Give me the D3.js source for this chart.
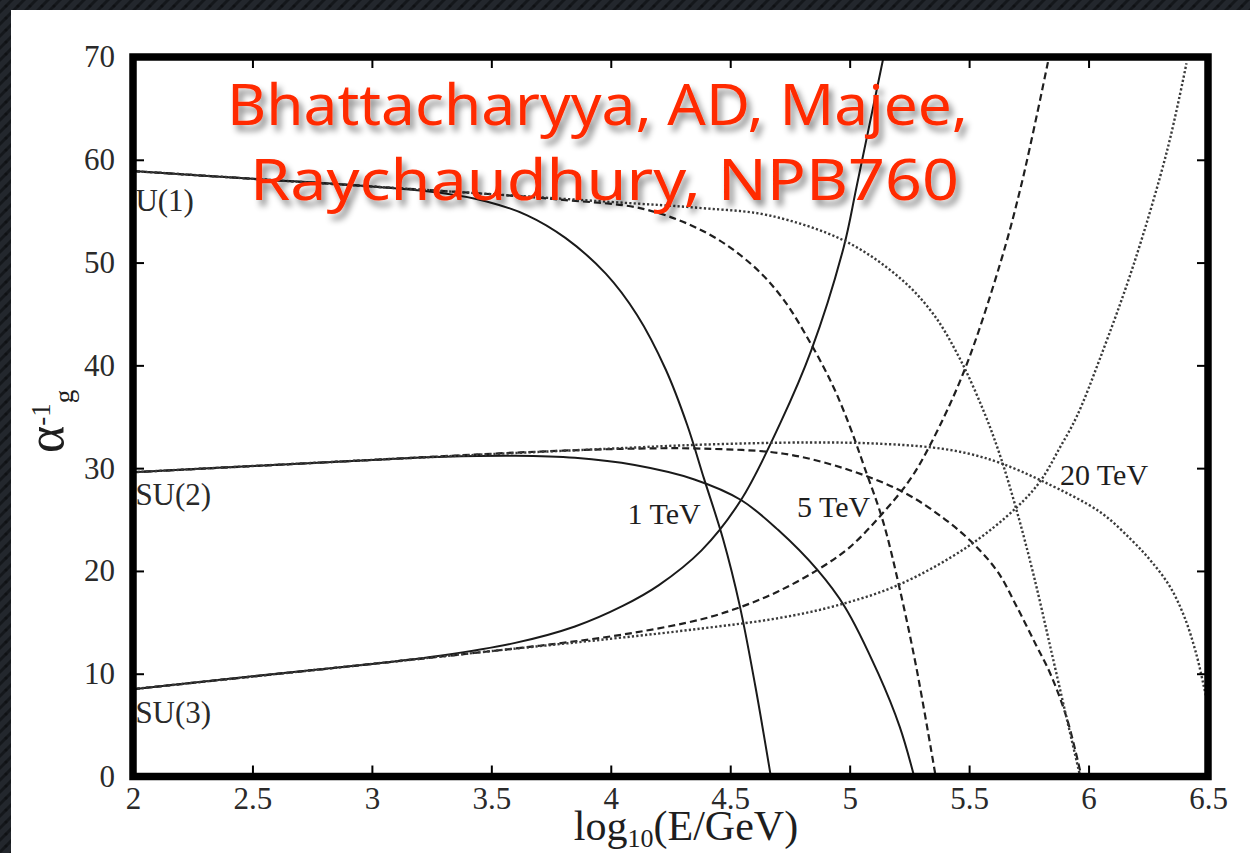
<!DOCTYPE html>
<html>
<head>
<meta charset="utf-8">
<script src="https://cdn.jsdelivr.net/npm/d3@7"></script>
<style>
  html, body { margin: 0; padding: 0; background: #1d2126; overflow: hidden; }
  svg { display: block; }
</style>
</head>
<body>
<svg id="chart" width="1250" height="853"></svg>
<script>
// ---- axis ticks ----
const xTicks = [2, 2.5, 3, 3.5, 4, 4.5, 5, 5.5, 6, 6.5];
const xTickLabels = ["2", "2.5", "3", "3.5", "4", "4.5", "5", "5.5", "6", "6.5"];
const yTicks = [0, 10, 20, 30, 40, 50, 60, 70];
const yTickLabels = ["0", "10", "20", "30", "40", "50", "60", "70"];

// ---- inverse gauge couplings vs log10(E/GeV), one array per curve ----
// compactification scale 1 TeV (solid)
const u1_1TeV = [[2,58.9],[2.5,58.15],[3,57.4],[3.3,56.75],[3.48,55.95],[3.65,54.6],[3.81,52.4],[3.98,48.9],[4.11,44.9],[4.23,39.6],[4.32,34.2],[4.39,29.0],[4.47,23.1],[4.54,16.6],[4.605,8.8],[4.67,0]];
const su2_1TeV = [[2,29.6],[2.5,30.2],[3,30.8],[3.3,31.1],[3.6,31.2],[3.85,31.0],[4.1,30.3],[4.35,28.9],[4.545,26.9],[4.7,24.0],[4.865,20.1],[4.98,16.5],[5.12,10.0],[5.21,4.8],[5.27,0]];
const su3_1TeV = [[2,8.5],[2.5,9.75],[3,10.95],[3.3,11.8],[3.6,13.0],[3.85,14.6],[4.05,16.6],[4.2,18.6],[4.38,22.0],[4.545,26.9],[4.71,34.4],[4.84,41.5],[4.975,51.5],[5.03,57.5],[5.14,69.8]];
// compactification scale 5 TeV (dashed)
const u1_5TeV = [[2,58.9],[3,57.4],[3.5,56.65],[3.8,56.1],[4.14,55.2],[4.4,52.9],[4.59,49.8],[4.72,46.5],[4.84,42.0],[4.93,38.0],[5.0,34.1],[5.06,30.2],[5.14,24.8],[5.21,18.2],[5.28,10.5],[5.36,0]];
const su2_5TeV = [[2,29.6],[3,30.8],[3.5,31.4],[3.8,31.7],[4.1,31.9],[4.38,31.9],[4.725,31.4],[5.0,29.8],[5.23,27.6],[5.4,25.0],[5.52,22.6],[5.62,19.9],[5.70,16.5],[5.78,12.8],[5.84,10.0],[5.91,5.6],[5.97,0]];
const su3_5TeV = [[2,8.5],[3,10.95],[3.5,12.2],[3.8,13.0],[4.1,14.0],[4.38,15.3],[4.545,16.5],[4.7,18.0],[4.865,20.1],[5.0,22.3],[5.13,25.4],[5.25,28.8],[5.34,32.4],[5.48,39.5],[5.63,49.9],[5.72,57.7],[5.83,69.5]];
// compactification scale 20 TeV (dotted)
const u1_20TeV = [[2,58.9],[3,57.4],[4,55.9],[4.38,55.3],[4.66,54.6],[4.98,52.1],[5.21,48.5],[5.35,45.0],[5.46,40.7],[5.56,35.6],[5.63,31.2],[5.70,25.8],[5.77,19.6],[5.84,12.6],[5.91,5.5],[5.965,0]];
const su2_20TeV = [[2,29.6],[3,30.8],[4,31.9],[4.4,32.3],[4.83,32.5],[5.1,32.4],[5.35,32.0],[5.5,31.4],[5.63,30.5],[5.81,28.7],[6.05,25.7],[6.18,23.0],[6.26,21.0],[6.34,18.5],[6.40,15.6],[6.45,12.0],[6.49,8.0],[6.5,7.0]];
const su3_20TeV = [[2,8.5],[3,10.95],[3.5,12.2],[4,13.4],[4.38,14.4],[4.7,15.4],[4.94,16.6],[5.2,18.6],[5.49,22.3],[5.70,26.2],[5.80,28.8],[5.88,32.0],[5.95,35.0],[6.05,40.8],[6.19,49.9],[6.33,61.0],[6.41,69.4]];

// ---- text ----
const groupLabels = [
  { text: "U(1)",  x: 2.01, y: 55.0 },
  { text: "SU(2)", x: 2.01, y: 26.4 },
  { text: "SU(3)", x: 2.01, y: 5.2 }
];
const scaleLabels = [
  { text: "1 TeV",  x: 4.07, y: 24.6 },
  { text: "5 TeV",  x: 4.78, y: 25.2 },
  { text: "20 TeV", x: 5.88, y: 28.4 }
];
const creditLines = ["Bhattacharyya, AD, Majee,", "Raychaudhury, NPB760"];

const curves = [
  { data: u1_1TeV,  style: "solid"  }, { data: su2_1TeV,  style: "solid"  }, { data: su3_1TeV,  style: "solid"  },
  { data: u1_5TeV,  style: "dashed" }, { data: su2_5TeV,  style: "dashed" }, { data: su3_5TeV,  style: "dashed" },
  { data: u1_20TeV, style: "dotted" }, { data: su2_20TeV, style: "dotted" }, { data: su3_20TeV, style: "dotted" }
];

const lineStyles = {
  solid:  { dash: null,      width: 2.0, color: "#1a1a1a" },
  dashed: { dash: "7,4",     width: 2.2, color: "#1f1f1f" },
  dotted: { dash: "2.2,2.2", width: 2.4, color: "#3a3a3a" }
};

// ---- layout ----
const svg = d3.select("#chart");
const W = 1250, H = 853;
const x = d3.scaleLinear().domain([2, 6.5]).range([133, 1208]);
const y = d3.scaleLinear().domain([0, 70]).range([776.5, 57]);

const defs = svg.append("defs");

// slate backdrop texture
const pat = defs.append("pattern").attr("id", "slate")
  .attr("width", 12).attr("height", 12).attr("patternUnits", "userSpaceOnUse");
pat.append("rect").attr("width", 12).attr("height", 12).attr("fill", "#23272d");
pat.append("path").attr("d", "M-3,3 L3,-3 M0,12 L12,0 M9,15 L15,9")
  .attr("stroke", "#14171b").attr("stroke-width", 3);
pat.append("circle").attr("cx", 6).attr("cy", 6).attr("r", 1.6).attr("fill", "#0f1114");

const shadow = defs.append("filter").attr("id", "shadow")
  .attr("x", "-10%").attr("y", "-30%").attr("width", "120%").attr("height", "160%");
shadow.append("feDropShadow").attr("dx", 4).attr("dy", 6).attr("stdDeviation", 3)
  .attr("flood-color", "#000").attr("flood-opacity", 0.45);

defs.append("clipPath").attr("id", "plotClip").append("rect")
  .attr("x", x(2)).attr("y", y(70)).attr("width", x(6.5) - x(2)).attr("height", y(0) - y(70));

svg.append("rect").attr("width", W).attr("height", H).attr("fill", "url(#slate)");
svg.append("rect").attr("x", 11).attr("y", 10).attr("width", W - 11).attr("height", H - 10).attr("fill", "#ffffff");

// ---- curves ----
const line = d3.line().x(d => x(d[0])).y(d => y(d[1])).curve(d3.curveCatmullRom.alpha(0.5));
const curveLayer = svg.append("g").attr("clip-path", "url(#plotClip)");
curveLayer.selectAll("path").data(curves).join("path")
  .attr("d", d => line(d.data))
  .attr("fill", "none")
  .attr("stroke", d => lineStyles[d.style].color)
  .attr("stroke-width", d => lineStyles[d.style].width)
  .attr("stroke-dasharray", d => lineStyles[d.style].dash)
  .attr("stroke-linecap", "butt");

// ---- axes (inward ticks on all four sides) ----
const tickFont = g => g.attr("font-family", "'Liberation Serif', 'Times New Roman', serif")
  .attr("font-size", 31).call(s => s.select(".domain").remove())
  .call(s => s.selectAll(".tick line").attr("stroke", "#000").attr("stroke-width", 2))
  .call(s => s.selectAll(".tick text").attr("fill", "#2a2a2a"));

svg.append("g").attr("transform", `translate(0,${y(0)})`)
  .call(d3.axisBottom(x).tickValues(xTicks).tickSize(-11).tickPadding(10)
    .tickFormat((d, i) => xTickLabels[i]))
  .call(tickFont);
svg.append("g").attr("transform", `translate(${x(2)},0)`)
  .call(d3.axisLeft(y).tickValues(yTicks).tickSize(-11).tickPadding(18)
    .tickFormat((d, i) => yTickLabels[i]))
  .call(tickFont);
svg.append("g").attr("transform", `translate(0,${y(70)})`)
  .call(d3.axisTop(x).tickValues(xTicks).tickSize(-11).tickFormat(""))
  .call(tickFont);
svg.append("g").attr("transform", `translate(${x(6.5)},0)`)
  .call(d3.axisRight(y).tickValues(yTicks).tickSize(-11).tickFormat(""))
  .call(tickFont);

// heavy plot frame
svg.append("rect")
  .attr("x", x(2)).attr("y", y(70))
  .attr("width", x(6.5) - x(2)).attr("height", y(0) - y(70))
  .attr("fill", "none").attr("stroke", "#000").attr("stroke-width", 7.5);

// ---- curve annotations ----
const serif = "'Liberation Serif', 'Times New Roman', serif";
svg.append("g").selectAll("text").data(groupLabels).join("text")
  .attr("x", d => x(d.x)).attr("y", d => y(d.y))
  .attr("font-family", serif).attr("font-size", 31).attr("fill", "#2a2a2a")
  .text(d => d.text);
svg.append("g").selectAll("text").data(scaleLabels).join("text")
  .attr("x", d => x(d.x)).attr("y", d => y(d.y))
  .attr("font-family", serif).attr("font-size", 30).attr("fill", "#1e1e1e")
  .text(d => d.text);

// ---- axis titles ----
const xTitle = svg.append("text").attr("x", 686).attr("y", 840)
  .attr("text-anchor", "middle").attr("font-family", serif).attr("fill", "#1e1e1e");
xTitle.append("tspan").attr("font-size", 42).text("log");
xTitle.append("tspan").attr("font-size", 26).attr("dy", 7).text("10");
xTitle.append("tspan").attr("font-size", 42).attr("dy", -7).text("(E/GeV)");

const yTitle = svg.append("text").attr("transform", "translate(63,453) rotate(-90)")
  .attr("font-family", serif).attr("fill", "#1e1e1e");
yTitle.append("tspan").attr("font-size", 52).text("α");
yTitle.append("tspan").attr("font-size", 27).attr("dy", -13).text("-1");
yTitle.append("tspan").attr("font-size", 27).attr("dy", 23).text("g");

// ---- reference note ----
const note = svg.append("g").attr("filter", "url(#shadow)");
note.append("text").attr("x", 227).attr("y", 125)
  .attr("textLength", 741).attr("lengthAdjust", "spacingAndGlyphs")
  .attr("font-family", "'Noto Sans', 'Open Sans', sans-serif").attr("font-size", 56)
  .attr("fill", "#ff2a00").text(creditLines[0]);
note.append("text").attr("x", 250).attr("y", 200)
  .attr("textLength", 709).attr("lengthAdjust", "spacingAndGlyphs")
  .attr("font-family", "'Noto Sans', 'Open Sans', sans-serif").attr("font-size", 56)
  .attr("fill", "#ff2a00").text(creditLines[1]);
</script>
</body>
</html>
